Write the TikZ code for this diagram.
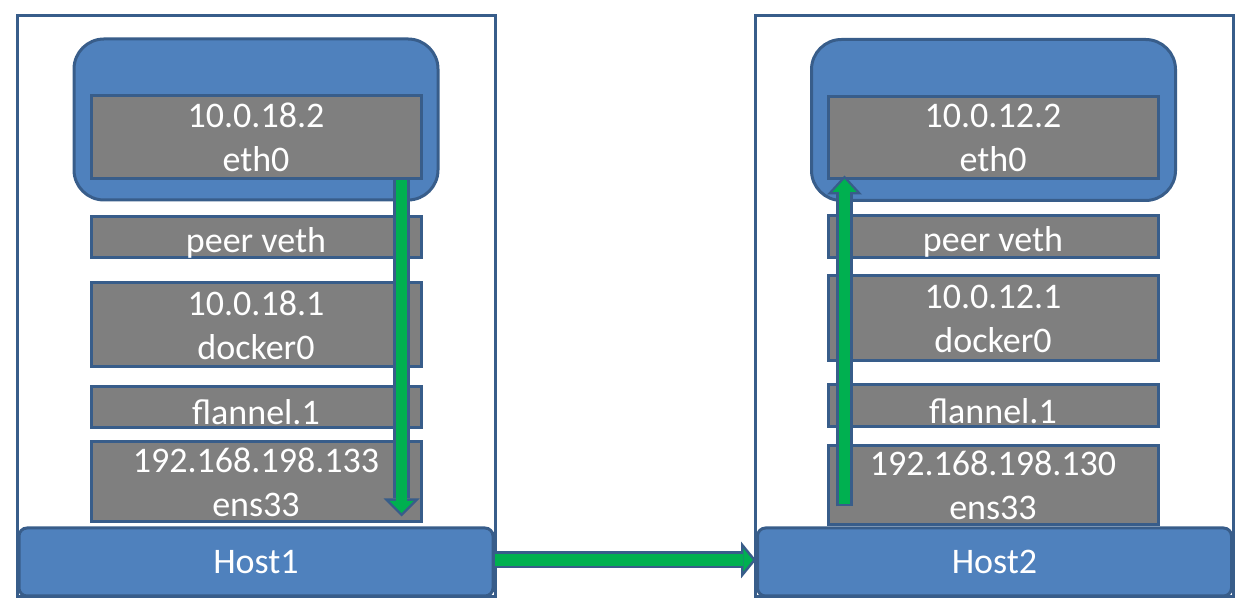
\documentclass[tikz,border=0pt]{standalone}
\usepackage{fontspec}
\setmainfont{Carlito}
\usepackage{tikz}
\usetikzlibrary{arrows.meta}
\definecolor{boxblue}{HTML}{4F81BD}
\definecolor{edgeblue}{HTML}{385D8A}
\definecolor{ifgray}{HTML}{7F7F7F}
\definecolor{flowgreen}{HTML}{00B050}

\begin{document}
\begin{tikzpicture}[x = 1pt, y = 1pt]
        \tikzstyle{frame} = [rectangle, draw = edgeblue, line width = 3, minimum width = 478, minimum height = 581]
        \tikzstyle{hostbar} = [rectangle, rounded corners = 8, draw = edgeblue, fill = boxblue, line width = 3, text = white, font = \fontsize{36}{44}\selectfont, minimum width = 474, minimum height = 68]
        \tikzstyle{container} = [rectangle, rounded corners = 30, draw = edgeblue, fill = boxblue, line width = 3, minimum width = 364, minimum height = 161]
        \tikzstyle{iface} = [rectangle, draw = edgeblue, fill = ifgray, line width = 3, text = white, align = center, inner sep = 0, font = \fontsize{36}{44}\selectfont, minimum width = 330]
        \tikzstyle{flowedge} = [line width = 17, draw = edgeblue]
        \tikzstyle{flowfill} = [line width = 11.5, draw = flowgreen]
        \useasboundingbox (0,0) rectangle (1250,612);
        % Host1
        \node at (256,305.5) (frame1) [frame] {};
        \node at (256,50) (host1) [hostbar] {Host1};
        \node at (256,492.5) (pod1) [container] {};
        \node at (256,474.5) (eth1) [iface, minimum height = 83] {10.0.18.2 \\ eth0};
        \node at (256,374.5) (peer1) [iface, minimum height = 41, text height = 35] {peer veth};
        \node at (256,287) (docker1) [iface, minimum height = 84] {10.0.18.1 \\ docker0};
        \node at (256,204.5) (flannel1) [iface, minimum height = 41, text height = 35] {flannel.1};
        \node at (256,130) (ens1) [iface, minimum height = 80] {192.168.198.133 \\ ens33};
        % Host2
        \node at (994,305.5) (frame2) [frame] {};
        \node at (994.5,50) (host2) [hostbar] {Host2};
        \node at (993.5,492) (pod2) [container] {};
        \node at (993,474) (eth2) [iface, minimum height = 82] {10.0.12.2 \\ eth0};
        \node at (993,375) (peer2) [iface, minimum height = 42, text height = 35] {peer veth};
        \node at (993,293.5) (docker2) [iface, minimum height = 85] {10.0.12.1 \\ docker0};
        \node at (993,206) (flannel2) [iface, minimum height = 42, text height = 35] {flannel.1};
        \node at (993,126.5) (ens2) [iface, minimum height = 79] {192.168.198.130 \\ ens33};
        % packet path
        \coordinate (down1) at ([xshift = -21]eth1.south east);
        \coordinate (down1end) at ([yshift = 7]down1 |- ens1.south);
        \draw [flowedge, -{Triangle[length = 18, width = 36, line width = 0pt]}] (down1) -- (down1end);
        \draw [flowfill, -{Triangle[length = 12, width = 24, line width = 0pt]}, shorten > = 3.5] (down1) -- (down1end);
        \draw [flowedge, -{Triangle[length = 15, width = 37, line width = 0pt]}] ([yshift = 2]host1.east) -- ([yshift = 2]host2.west);
        \draw [flowfill, -{Triangle[length = 9.5, width = 23, line width = 0pt]}, shorten > = 3.2] ([yshift = 2]host1.east) -- ([yshift = 2]host2.west);
        \coordinate (up2) at ([xshift = 18, yshift = 20]eth2.south west |- ens2.south);
        \coordinate (up2end) at ([yshift = 5]up2 |- eth2.south);
        \draw [flowedge, -{Triangle[length = 19, width = 35, line width = 0pt]}] (up2) -- (up2end);
        \draw [flowfill, -{Triangle[length = 13, width = 24, line width = 0pt]}, shorten > = 3.5, shorten < = 2.75] (up2) -- (up2end);
    \end{tikzpicture}
\end{document}
